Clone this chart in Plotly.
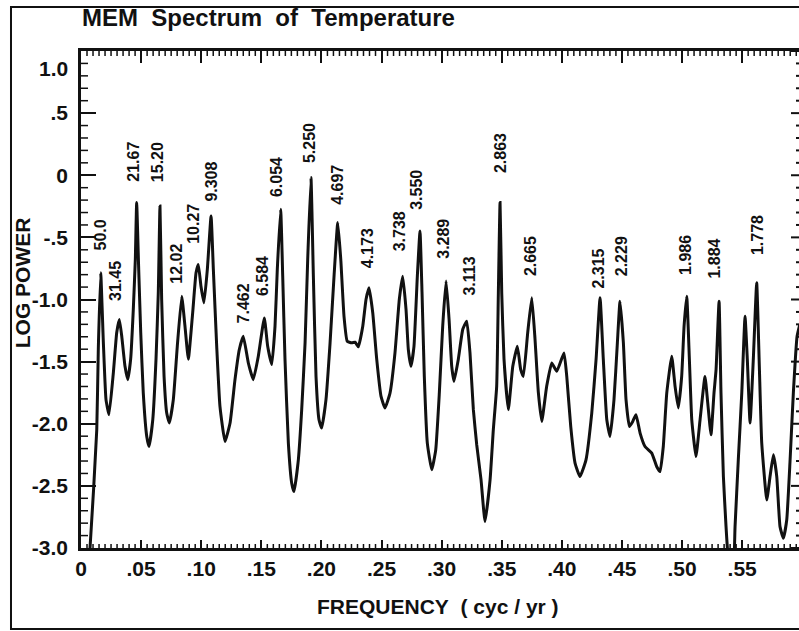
import plotly.graph_objects as go

# ---- data (frequency in cyc/yr, log power) ----
freq = [0.0060, 0.0075, 0.0131, 0.0144, 0.0164, 0.0186, 0.0208, 0.0233, 0.0269, 0.0297,
        0.0319, 0.0339, 0.0366, 0.0389, 0.0413, 0.0435, 0.0452, 0.0463, 0.0480, 0.0497,
        0.0518, 0.0547, 0.0566, 0.0597, 0.0624, 0.0643, 0.0657, 0.0671, 0.0691, 0.0713,
        0.0735, 0.0768, 0.0801, 0.0838, 0.0865, 0.0893, 0.0929, 0.0957, 0.0976, 0.0998,
        0.1023, 0.1051, 0.1082, 0.1101, 0.1129, 0.1156, 0.1198, 0.1240, 0.1281, 0.1317,
        0.1350, 0.1392, 0.1433, 0.1475, 0.1525, 0.1553, 0.1587, 0.1614, 0.1633, 0.1661,
        0.1678, 0.1697, 0.1725, 0.1753, 0.1772, 0.1808, 0.1836, 0.1864, 0.1886, 0.1913,
        0.1933, 0.1955, 0.1980, 0.2002, 0.2038, 0.2072, 0.2105, 0.2136, 0.2161, 0.2188,
        0.2215, 0.2252, 0.2280, 0.2307, 0.2344, 0.2371, 0.2396, 0.2427, 0.2460, 0.2496,
        0.2529, 0.2571, 0.2612, 0.2648, 0.2676, 0.2704, 0.2723, 0.2745, 0.2770, 0.2798,
        0.2820, 0.2837, 0.2856, 0.2881, 0.2918, 0.2951, 0.2981, 0.3009, 0.3037, 0.3062,
        0.3084, 0.3103, 0.3139, 0.3176, 0.3209, 0.3236, 0.3264, 0.3292, 0.3328, 0.3361,
        0.3403, 0.3430, 0.3458, 0.3472, 0.3486, 0.3500, 0.3519, 0.3555, 0.3592, 0.3630,
        0.3658, 0.3680, 0.3716, 0.3750, 0.3777, 0.3805, 0.3833, 0.3874, 0.3916, 0.3958,
        0.4018, 0.4041, 0.4074, 0.4110, 0.4151, 0.4201, 0.4249, 0.4285, 0.4318, 0.4345,
        0.4374, 0.4401, 0.4434, 0.4462, 0.4484, 0.4512, 0.4534, 0.4562, 0.4590, 0.4617,
        0.4651, 0.4692, 0.4748, 0.4789, 0.4817, 0.4844, 0.4873, 0.4914, 0.4942, 0.4969,
        0.4997, 0.5017, 0.5039, 0.5061, 0.5081, 0.5116, 0.5150, 0.5191, 0.5214, 0.5241,
        0.5266, 0.5283, 0.5308, 0.5324, 0.5344, 0.5366, 0.5385, 0.5399, 0.5424, 0.5441,
        0.5468, 0.5497, 0.5524, 0.5543, 0.5566, 0.5593, 0.5621, 0.5643, 0.5663, 0.5705,
        0.5732, 0.5760, 0.5788, 0.5815, 0.5843, 0.5871, 0.5899, 0.5926, 0.5957, 0.5980]

log_power = [-3.10, -3.00, -2.05, -1.40, -0.785, -1.347, -1.806, -1.927, -1.591, -1.268,
             -1.161, -1.296, -1.538, -1.645, -1.48, -1.081, -0.677, -0.220, -0.758, -1.268,
             -1.752, -2.102, -2.183, -1.968, -1.48, -0.946, -0.248, -1.0, -1.619, -1.914,
             -1.994, -1.806, -1.377, -0.973, -1.215, -1.48, -1.107, -0.785, -0.718, -0.893,
             -1.027, -0.758, -0.328, -0.758, -1.377, -1.860, -2.143, -1.994, -1.645, -1.403,
             -1.296, -1.511, -1.645, -1.457, -1.148, -1.377, -1.524, -1.215, -0.758, -0.274,
             -0.812, -1.48, -2.156, -2.478, -2.546, -2.290, -1.887, -1.349, -0.677, -0.019,
             -0.812, -1.619, -1.968, -2.035, -1.806, -1.349, -0.812, -0.381, -0.677, -1.135,
             -1.336, -1.349, -1.344, -1.381, -1.215, -1.0, -0.906, -1.107, -1.48, -1.780,
             -1.873, -1.752, -1.430, -1.0, -0.812, -1.081, -1.403, -1.538, -1.377, -0.812,
             -0.449, -0.946, -1.619, -2.156, -2.371, -2.210, -1.752, -1.215, -0.852, -1.161,
             -1.538, -1.659, -1.48, -1.24, -1.175, -1.430, -1.887, -2.169, -2.452, -2.788,
             -2.452, -2.05, -1.699, -0.946, -0.220, -0.946, -1.48, -1.887, -1.538, -1.377,
             -1.565, -1.619, -1.268, -0.986, -1.32, -1.752, -1.981, -1.699, -1.511, -1.578,
             -1.430, -1.619, -2.022, -2.317, -2.425, -2.290, -1.914, -1.48, -0.986, -1.48,
             -1.968, -2.102, -1.806, -1.349, -1.014, -1.349, -1.806, -2.022, -1.981, -1.927,
             -2.075, -2.183, -2.236, -2.344, -2.385, -2.183, -1.752, -1.457, -1.699, -1.873,
             -1.619, -1.215, -0.973, -1.48, -1.968, -2.264, -1.968, -1.619, -1.834, -2.089,
             -1.752, -1.565, -1.014, -1.752, -2.425, -2.828, -3.10, -3.18, -3.18, -2.828,
             -2.290, -1.752, -1.135, -1.48, -1.994, -1.48, -0.865, -1.538, -2.156, -2.613,
             -2.425, -2.250, -2.425, -2.828, -2.922, -2.774, -2.290, -1.752, -1.296, -1.20]

# peak labels (period in years), their centre frequency and the log power at the label's base
peak_labels = ["50.0", "31.45", "21.67", "15.20", "12.02", "10.27", "9.308", "7.462",
               "6.584", "6.054", "5.250", "4.697", "4.173", "3.738", "3.550", "3.289",
               "3.113", "2.863", "2.665", "2.315", "2.229", "1.986", "1.884", "1.778"]
label_freq = [0.0166, 0.0291, 0.0441, 0.0636, 0.0799, 0.0940, 0.1090, 0.1348,
              0.1506, 0.1626, 0.1897, 0.2134, 0.2384, 0.2646, 0.2791, 0.3020,
              0.3228, 0.3486, 0.3735, 0.4309, 0.4493, 0.5033, 0.5274, 0.5624]
label_base = [-0.61, -1.02, -0.06, -0.06, -0.88, -0.56, -0.22, -1.20,
              -0.98, -0.18, 0.09, -0.25, -0.76, -0.62, -0.29, -0.68,
              -0.98, 0.01, -0.82, -0.92, -0.82, -0.81, -0.84, -0.65]

x_tickvals = [0, 0.05, 0.10, 0.15, 0.20, 0.25, 0.30, 0.35, 0.40, 0.45, 0.50, 0.55]
x_ticktext = ["0", ".05", ".10", ".15", ".20", ".25", ".30", ".35", ".40", ".45", ".50", ".55"]
y_tickvals = [1.0, 0.5, 0, -0.5, -1.0, -1.5, -2.0, -2.5, -3.0]
y_ticktext = ["", ".5", "0", "-.5", "-1.0", "-1.5", "-2.0", "-2.5", "-3.0"]
y_top_label = "1.0"

X_RANGE = [0, 0.5973]
Y_RANGE = [-3.0, 1.0]
FONT = "Liberation Sans"
INK = "#111111"
PLOT_W, PLOT_H = 718, 497   # plot area size in px (set by the margins below)

fig = go.Figure()
fig.add_trace(go.Scatter(x=freq, y=log_power, mode="lines",
                         line=dict(color=INK, width=3, shape="spline", smoothing=0.4),
                         hoverinfo="skip", showlegend=False))
# helper trace so the top tick axis is drawn
fig.add_trace(go.Scatter(x=[None], y=[None], xaxis="x2", yaxis="y",
                         mode="lines", showlegend=False, hoverinfo="skip"))

for txt, fx, fy in zip(peak_labels, label_freq, label_base):
    fig.add_annotation(x=fx, y=fy, text=txt, textangle=-90, showarrow=False,
                       xanchor="center", yanchor="bottom", borderpad=0,
                       font=dict(family=FONT, size=16, color=INK, weight="bold"))

tickfont = dict(family=FONT, size=21, color=INK, weight="bold")

fig.update_layout(
    width=799, height=631,
    margin=dict(l=81, r=0, t=51, b=83),
    paper_bgcolor="white", plot_bgcolor="white",
    showlegend=False,
    xaxis=dict(range=X_RANGE, tickmode="array", tickvals=x_tickvals, ticktext=x_ticktext,
               showline=True, linecolor=INK, linewidth=2.5,
               ticks="inside", ticklen=8, tickwidth=2, tickcolor=INK,
               showgrid=False, zeroline=False, tickfont=tickfont),
    yaxis=dict(range=Y_RANGE, tickmode="array", tickvals=y_tickvals, ticktext=y_ticktext,
               showline=True, linecolor=INK, linewidth=2.5,
               ticks="inside", ticklen=15, tickwidth=2, tickcolor=INK,
               ticklabelstandoff=6,
               showgrid=False, zeroline=False, tickfont=tickfont),
    xaxis2=dict(range=X_RANGE, overlaying="x", side="top", anchor="y",
                showline=True, linecolor=INK, linewidth=2.5,
                ticks="inside", ticklen=12, tickwidth=2, tickcolor=INK,
                tickmode="linear", tick0=0, dtick=0.05, showticklabels=False,
                showgrid=False, zeroline=False),
)

# ---- small tick marks (minor ticks, right-hand ticks) drawn as axis decorations ----
tick_shapes = []
def _seg(xref, yref, x0, x1, y0, y1, w=1.5):
    tick_shapes.append(dict(type="line", xref=xref, yref=yref, x0=x0, x1=x1,
                            y0=y0, y1=y1, line=dict(color=INK, width=w), layer="above"))

x_minor = [k * 0.005 for k in range(0, 120) if k % 10 != 0]
for v in x_minor:
    _seg("x", "paper", v, v, 0, 4 / PLOT_H)            # bottom minor
    _seg("x", "paper", v, v, 1, 1 - 5 / PLOT_H)        # top minor
y_minor = [k * 0.1 for k in range(-30, 11) if k % 5 != 0]
for v in y_minor:
    _seg("paper", "y", 0, 7 / PLOT_W, v, v)            # left minor
    _seg("paper", "y", 1, 1 - 3 / PLOT_W, v, v, 2)     # right minor
for v in y_tickvals:
    _seg("paper", "y", 1, 1 - 8 / PLOT_W, v, v, 2)     # right major

# outer frame of the figure
tick_shapes.append(dict(type="rect", xref="paper", yref="paper",
                        x0=-0.0975, x1=1.02, y0=-0.163, y1=1.0885,
                        line=dict(color=INK, width=2), layer="above"))
fig.update_layout(shapes=tick_shapes)

# "1.0" label sits a little below the top axis in the reference
fig.add_annotation(xref="paper", yref="paper", x=-0.0153, y=1 - 17 / PLOT_H,
                   xanchor="right", yanchor="middle", showarrow=False,
                   text=y_top_label, font=tickfont)

# chart title and axis titles
fig.add_annotation(xref="paper", yref="paper", x=-0.001, y=1.068,
                   xanchor="left", yanchor="middle", showarrow=False,
                   text="MEM\u00a0 Spectrum\u00a0 of\u00a0 Temperature",
                   font=dict(family=FONT, size=24, color=INK, weight="bold"))
fig.add_annotation(xref="paper", yref="paper", x=-0.082, y=0.533,
                   xanchor="center", yanchor="middle", showarrow=False,
                   textangle=-90, text="LOG POWER",
                   font=dict(family=FONT, size=21, color=INK, weight="bold"))
fig.add_annotation(xref="paper", yref="paper", x=0.497, y=-0.117,
                   xanchor="center", yanchor="middle", showarrow=False,
                   text="FREQUENCY\u00a0 ( cyc / yr )",
                   font=dict(family=FONT, size=21, color=INK, weight="bold"))

fig.write_html("out.html")
